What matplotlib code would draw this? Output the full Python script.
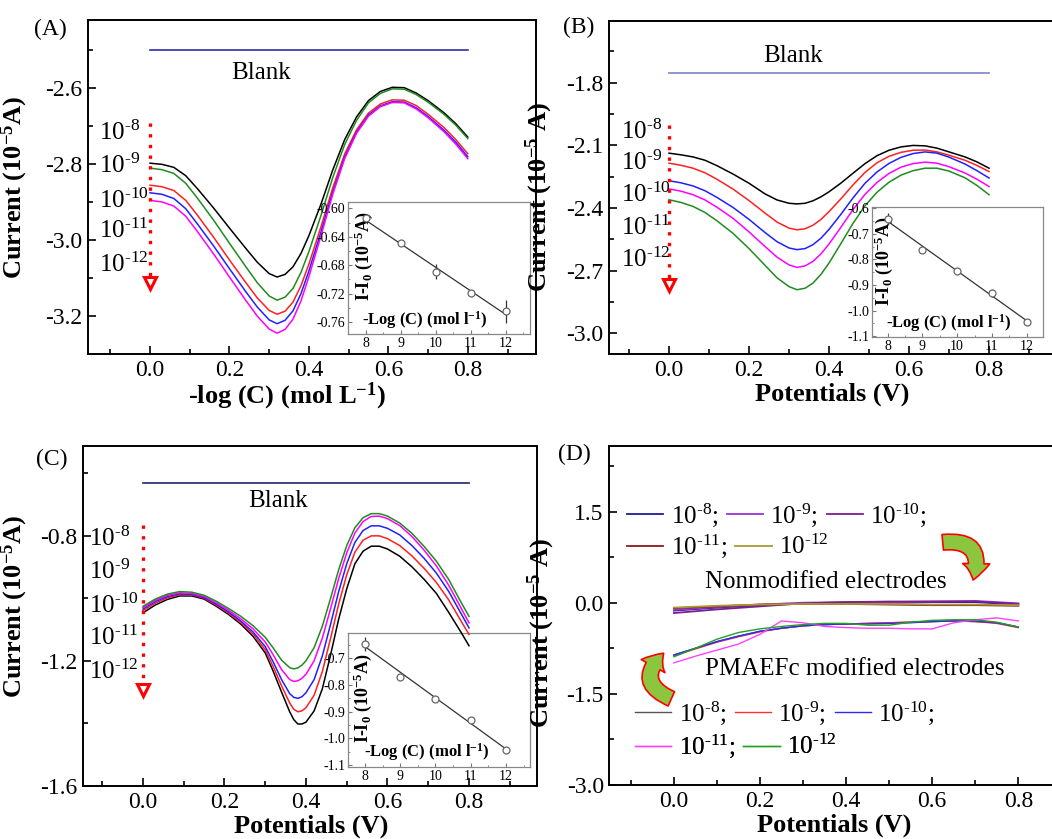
import numpy as np
import matplotlib
matplotlib.use("Agg")
import matplotlib.pyplot as plt
from matplotlib.ticker import MultipleLocator, FormatStrFormatter
from matplotlib.patches import FancyArrowPatch

plt.rcParams['font.family'] = ['Liberation Serif', 'DejaVu Serif']
plt.rcParams['mathtext.fontset'] = 'custom'
plt.rcParams['mathtext.rm'] = 'Liberation Serif'
plt.rcParams['mathtext.it'] = 'Liberation Serif:italic'
plt.rcParams['mathtext.bf'] = 'Liberation Serif:bold'
plt.rcParams['mathtext.default'] = 'regular'
plt.rcParams['axes.unicode_minus'] = False

# -------------------------------
# Data
# -------------------------------
conc_labels = [r'10$^{\text{-8}}$', r'10$^{\text{-9}}$', r'10$^{\text{-10}}$',
               r'10$^{\text{-11}}$', r'10$^{\text{-12}}$']
log_conc = [8, 9, 10, 11, 12]

# Panel A (shared potential grid for A and B)
potential_ab = [0, 0.03, 0.06, 0.09, 0.12, 0.16, 0.2, 0.24, 0.27, 0.3, 0.32, 0.34, 0.36, 0.38,
                0.4, 0.43, 0.46, 0.49, 0.52, 0.55, 0.58, 0.61, 0.64, 0.67, 0.7, 0.74, 0.77, 0.8]
a_black = [-2.797, -2.800, -2.808, -2.830, -2.865, -2.915, -2.968, -3.020, -3.058, -3.088, -3.097,
           -3.090, -3.070, -3.035, -2.988, -2.906, -2.815, -2.735, -2.675, -2.632, -2.608, -2.597,
           -2.598, -2.612, -2.632, -2.664, -2.693, -2.728]
a_green = [-2.810, -2.814, -2.824, -2.850, -2.890, -2.947, -3.008, -3.068, -3.112, -3.147, -3.158,
           -3.150, -3.127, -3.085, -3.030, -2.936, -2.835, -2.748, -2.684, -2.638, -2.613, -2.601,
           -2.602, -2.616, -2.636, -2.668, -2.697, -2.732]
a_red = [-2.855, -2.859, -2.869, -2.895, -2.935, -2.992, -3.052, -3.110, -3.152, -3.185, -3.195,
         -3.187, -3.163, -3.120, -3.063, -2.966, -2.862, -2.773, -2.709, -2.665, -2.641, -2.630,
         -2.631, -2.645, -2.668, -2.703, -2.735, -2.772]
a_blue = [-2.875, -2.879, -2.890, -2.917, -2.958, -3.015, -3.075, -3.134, -3.176, -3.210, -3.220,
          -3.211, -3.186, -3.141, -3.081, -2.980, -2.873, -2.781, -2.715, -2.670, -2.646, -2.635,
          -2.636, -2.651, -2.674, -2.710, -2.742, -2.780]
a_magenta = [-2.895, -2.899, -2.910, -2.937, -2.978, -3.036, -3.097, -3.157, -3.200, -3.234, -3.245,
             -3.235, -3.208, -3.160, -3.096, -2.990, -2.879, -2.785, -2.718, -2.673, -2.648, -2.637,
             -2.638, -2.654, -2.677, -2.714, -2.747, -2.785]
a_blank = -2.5
a_inset = [-0.614, -0.649, -0.689, -0.719, -0.745]
a_inset_err = [0.003, 0.004, 0.010, 0.003, 0.016]

# Panel B
b_black = [-2.138, -2.146, -2.156, -2.172, -2.198, -2.238, -2.282, -2.333, -2.362, -2.378, -2.381,
           -2.378, -2.366, -2.347, -2.323, -2.281, -2.234, -2.188, -2.150, -2.124, -2.108, -2.101,
           -2.103, -2.114, -2.132, -2.156, -2.180, -2.210]
b_red = [-2.186, -2.196, -2.210, -2.232, -2.263, -2.310, -2.365, -2.425, -2.468, -2.497, -2.505,
         -2.500, -2.483, -2.455, -2.418, -2.356, -2.290, -2.230, -2.184, -2.153, -2.134, -2.124,
         -2.123, -2.132, -2.148, -2.172, -2.197, -2.226]
b_blue = [-2.270, -2.280, -2.295, -2.318, -2.350, -2.398, -2.455, -2.518, -2.562, -2.592, -2.600,
          -2.595, -2.576, -2.545, -2.503, -2.430, -2.352, -2.282, -2.228, -2.187, -2.158, -2.140,
          -2.132, -2.138, -2.157, -2.190, -2.222, -2.257]
b_magenta = [-2.309, -2.320, -2.337, -2.362, -2.397, -2.450, -2.515, -2.585, -2.636, -2.673, -2.685,
             -2.678, -2.656, -2.620, -2.573, -2.492, -2.408, -2.335, -2.278, -2.235, -2.205, -2.188,
             -2.181, -2.186, -2.203, -2.233, -2.263, -2.298]
b_green = [-2.361, -2.374, -2.393, -2.422, -2.462, -2.522, -2.595, -2.675, -2.735, -2.777, -2.792,
           -2.785, -2.760, -2.718, -2.664, -2.570, -2.474, -2.390, -2.325, -2.277, -2.243, -2.222,
           -2.210, -2.210, -2.224, -2.256, -2.293, -2.337]
b_blank = -1.752
b_inset = [-0.642, -0.763, -0.845, -0.930, -1.044]
b_inset_err = [0.022, 0.008, 0.005, 0.015, 0.008]

# Panel C
potential_c = [0, 0.03, 0.06, 0.09, 0.12, 0.15, 0.18, 0.21, 0.24, 0.27, 0.3, 0.32, 0.34, 0.36,
               0.37, 0.38, 0.39, 0.4, 0.42, 0.44, 0.46, 0.48, 0.5, 0.52, 0.54, 0.56, 0.58, 0.6,
               0.63, 0.66, 0.69, 0.72, 0.75, 0.78, 0.8]
c_black = [-1.047, -1.022, -1.004, -0.993, -0.993, -1.003, -1.026, -1.052, -1.083, -1.122, -1.175,
           -1.235, -1.300, -1.363, -1.388, -1.402, -1.402, -1.396, -1.360, -1.290, -1.183, -1.068,
           -0.970, -0.890, -0.850, -0.834, -0.834, -0.843, -0.866, -0.900, -0.940, -0.985, -1.045,
           -1.108, -1.152]
c_red = [-1.040, -1.016, -0.999, -0.989, -0.990, -1.000, -1.022, -1.048, -1.078, -1.115, -1.165,
         -1.220, -1.280, -1.335, -1.355, -1.363, -1.360, -1.350, -1.310, -1.235, -1.130, -1.020,
         -0.925, -0.853, -0.815, -0.801, -0.801, -0.810, -0.832, -0.865, -0.905, -0.950, -1.005,
         -1.072, -1.116]
c_blue = [-1.035, -1.011, -0.995, -0.986, -0.988, -0.998, -1.019, -1.044, -1.073, -1.108, -1.155,
          -1.205, -1.260, -1.305, -1.317, -1.320, -1.315, -1.302, -1.260, -1.185, -1.085, -0.980,
          -0.890, -0.822, -0.784, -0.769, -0.769, -0.777, -0.798, -0.832, -0.873, -0.920, -0.978,
          -1.048, -1.095]
c_magenta = [-1.030, -1.007, -0.991, -0.983, -0.985, -0.995, -1.015, -1.039, -1.066, -1.098, -1.140,
             -1.182, -1.228, -1.260, -1.266, -1.264, -1.256, -1.243, -1.200, -1.128, -1.035, -0.938,
             -0.855, -0.792, -0.755, -0.739, -0.738, -0.746, -0.768, -0.803, -0.847, -0.897, -0.958,
             -1.030, -1.079]
c_green = [-1.026, -1.003, -0.987, -0.979, -0.981, -0.991, -1.010, -1.033, -1.058, -1.088, -1.125,
           -1.160, -1.198, -1.222, -1.226, -1.223, -1.214, -1.200, -1.158, -1.090, -1.002, -0.910,
           -0.832, -0.775, -0.743, -0.730, -0.730, -0.738, -0.760, -0.793, -0.835, -0.882, -0.940,
           -1.012, -1.058]
c_blank = -0.631
c_inset = [-0.646, -0.769, -0.851, -0.931, -1.044]
c_inset_err = [0.026, 0.010, 0.006, 0.010, 0.006]

# Panel D
potential_d_bare = [0, 0.1, 0.2, 0.3, 0.4, 0.5, 0.6, 0.7, 0.8]
d_bare = [
    [-0.13, -0.08, -0.04, -0.01, 0.00, 0.00, 0.01, 0.01, -0.03],
    [-0.12, -0.07, -0.03, 0.00, 0.01, 0.01, 0.02, 0.03, -0.01],
    [-0.17, -0.11, -0.06, -0.01, 0.01, 0.02, 0.02, 0.02, -0.02],
    [-0.09, -0.06, -0.03, -0.02, -0.02, -0.03, -0.04, -0.04, -0.05],
    [-0.08, -0.05, -0.03, -0.02, -0.02, -0.02, -0.03, -0.03, -0.04],
]
potential_d_mod = [0, 0.05, 0.1, 0.15, 0.2, 0.25, 0.3, 0.35, 0.4,
                   0.45, 0.5, 0.55, 0.6, 0.65, 0.7, 0.75, 0.8]
d_mod = [
    [-0.86, -0.75, -0.64, -0.55, -0.47, -0.42, -0.38, -0.36, -0.35, -0.34, -0.33, -0.32, -0.31, -0.30, -0.31, -0.33, -0.40],
    [-0.87, -0.76, -0.65, -0.56, -0.48, -0.42, -0.38, -0.36, -0.35, -0.34, -0.33, -0.32, -0.31, -0.30, -0.31, -0.34, -0.41],
    [-0.86, -0.75, -0.64, -0.55, -0.47, -0.42, -0.38, -0.36, -0.35, -0.35, -0.34, -0.33, -0.31, -0.30, -0.30, -0.33, -0.40],
    [-0.99, -0.88, -0.78, -0.68, -0.52, -0.30, -0.33, -0.39, -0.41, -0.42, -0.42, -0.43, -0.43, -0.33, -0.28, -0.25, -0.30],
    [-0.89, -0.75, -0.60, -0.49, -0.43, -0.39, -0.36, -0.34, -0.34, -0.37, -0.37, -0.32, -0.29, -0.28, -0.28, -0.32, -0.40],
]

BLACK, GREEN, RED, BLUE, MAGENTA = 'black', '#1e8c1e', '#ff2020', '#2020ff', '#ff00ff'
bare_colors = ['#1c1c9c', '#9933dd', '#7a1f8f', '#8b1a1a', '#a89a30']
mod_colors = ['#555555', '#ff3030', '#2a2aff', '#ff40ff', '#22a022']


# -------------------------------
# Helpers
# -------------------------------
def style_main(ax, xlim, ylim, ystep, yfmt):
    ax.set_xlim(xlim)
    ax.set_ylim(ylim)
    ax.xaxis.set_major_locator(MultipleLocator(0.2))
    ax.xaxis.set_minor_locator(MultipleLocator(0.1))
    ax.yaxis.set_major_locator(MultipleLocator(ystep))
    ax.yaxis.set_minor_locator(MultipleLocator(ystep / 2))
    ax.xaxis.set_major_formatter(FormatStrFormatter('%.1f'))
    ax.yaxis.set_major_formatter(FormatStrFormatter(yfmt))
    ax.tick_params(which='both', direction='in', top=False, right=False,
                   labelsize=17, width=1.2, pad=4)
    ax.tick_params(which='major', length=6)
    ax.tick_params(which='minor', length=3.5)
    for sp in ax.spines.values():
        sp.set_linewidth(1.4)


def add_inset(fig, rect, xlim, ylim, ystep, yfmt, yvals, yerr, lab_pos):
    ins = fig.add_axes(rect)
    ins.errorbar(log_conc, yvals, yerr=yerr, fmt='o', ms=5, mfc='white', mec='#666666',
                 mew=0.9, ecolor='#333333', elinewidth=0.9, capsize=0, zorder=3)
    coef = np.polyfit(log_conc, yvals, 1)
    xs = np.array([log_conc[0], log_conc[-1]])
    ins.plot(xs, np.polyval(coef, xs), color='#333333', lw=0.9)
    ins.set_xlim(xlim)
    ins.set_ylim(ylim)
    ins.xaxis.set_major_locator(MultipleLocator(1))
    ins.xaxis.set_minor_locator(MultipleLocator(0.5))
    ins.yaxis.set_major_locator(MultipleLocator(ystep))
    ins.yaxis.set_minor_locator(MultipleLocator(ystep / 2))
    ins.yaxis.set_major_formatter(FormatStrFormatter(yfmt))
    ins.tick_params(which='both', direction='in', labelsize=10, color='#777777', pad=2)
    ins.tick_params(which='major', length=3)
    ins.tick_params(which='minor', length=1.5)
    for sp in ins.spines.values():
        sp.set_color('#888888')
        sp.set_linewidth(0.9)
    ins.text(lab_pos[0], lab_pos[1], r'I-I$_\mathbf{0}$ (10$^\mathbf{-5}$A)', transform=ins.transAxes,
             rotation=90, ha='center', va='center', fontsize=13, fontweight='bold')
    ins.text(lab_pos[2], lab_pos[3], r'-Log (C) (mol l$^\mathbf{-1}$)', transform=ins.transAxes,
             ha='center', va='center', fontsize=12, fontweight='bold')
    return ins


def add_conc_marks(ax, xlab, ylabs, ytop, ybot, blank_y, blank_color, blank_txt):
    for lab, y in zip(conc_labels, ylabs):
        ax.text(xlab, y, lab, fontsize=18, ha='left', va='center')
    ax.plot([0, 0], [ytop, ybot], linestyle=(0, (1, 2.2)), color='red', lw=2.4)
    ax.plot([0], [ybot], marker='v', ms=8, color='red', mfc='white', mew=2.2)
    ax.plot([0, 0.8], [blank_y, blank_y], color=blank_color, lw=1.2)
    ax.text(blank_txt[0], blank_txt[1], 'Blank', fontsize=18, ha='center', va='center')


# -------------------------------
# Figure
# -------------------------------
fig = plt.figure(figsize=(10.52, 8.39), dpi=100)

# Panel A
axA = fig.add_axes([0.0837, 0.578, 0.4259, 0.398])
for y, c in zip([a_black, a_green, a_red, a_blue, a_magenta], [BLACK, GREEN, RED, BLUE, MAGENTA]):
    axA.plot(potential_ab, y, color=c, lw=1.1)
add_conc_marks(axA, -0.128, [-2.718, -2.803, -2.895, -2.974, -3.066], -2.692, -3.113,
               a_blank, '#2d2daa', (0.28, -2.558))
style_main(axA, (-0.156, 0.972), (-3.3, -2.42), 0.2, '%.1f')
axA.set_xlabel(r'-log (C) (mol L$^\mathbf{-1}$)', fontsize=19, fontweight='bold')
axA.xaxis.set_label_coords(0.445, -0.128)
axA.xaxis.label.set_va('center')
axA.set_ylabel(r'Current (10$^\mathbf{-5}$A)', fontsize=19, fontweight='bold')
axA.yaxis.set_label_coords(-0.13, 0.5)
add_inset(fig, [0.3308, 0.6019, 0.173, 0.1573], (7.49, 12.69), (-0.777, -0.591), 0.04, '%.2f',
          a_inset, a_inset_err, (0.085, 0.59, 0.42, 0.106))

# Panel B
axB = fig.add_axes([0.5789, 0.578, 0.4259, 0.397])
for y, c in zip([b_black, b_red, b_blue, b_magenta, b_green], [BLACK, RED, BLUE, MAGENTA, GREEN]):
    axB.plot(potential_ab, y, color=c, lw=1.1)
add_conc_marks(axB, -0.12, [-2.036, -2.185, -2.338, -2.496, -2.648], -2.003, -2.768,
               b_blank, '#8080cc', (0.31, -1.672))
style_main(axB, (-0.15, 0.97), (-3.1, -1.505), 0.3, '%.1f')
axB.set_xlabel('Potentials (V)', fontsize=19, fontweight='bold')
axB.xaxis.set_label_coords(0.498, -0.12)
axB.xaxis.label.set_va('center')
axB.set_ylabel(r'Current (10$^\mathbf{-5}$ A)', fontsize=19, fontweight='bold')
axB.yaxis.set_label_coords(-0.12, 0.47)
add_inset(fig, [0.8289, 0.5983, 0.1625, 0.155], (7.55, 12.47), (-1.103, -0.595), 0.1, '%.1f',
          b_inset, b_inset_err, (0.07, 0.58, 0.45, 0.108))

# Panel C
axC = fig.add_axes([0.0786, 0.0632, 0.4319, 0.4052])
for y, c in zip([c_black, c_red, c_blue, c_magenta, c_green], [BLACK, RED, BLUE, MAGENTA, GREEN]):
    axC.plot(potential_c, y, color=c, lw=1.1)
add_conc_marks(axC, -0.133, [-0.81, -0.916, -1.026, -1.126, -1.237], -0.766, -1.295,
               c_blank, '#24246e', (0.331, -0.69))
style_main(axC, (-0.148, 0.967), (-1.6, -0.514), 0.4, '%.1f')
axC.set_xlabel('Potentials (V)', fontsize=19, fontweight='bold')
axC.xaxis.set_label_coords(0.502, -0.118)
axC.xaxis.label.set_va('center')
axC.set_ylabel(r'Current (10$^\mathbf{-5}$A)', fontsize=19, fontweight='bold')
axC.yaxis.set_label_coords(-0.117, 0.527)
insC = add_inset(fig, [0.3308, 0.0858, 0.173, 0.1597], (7.52, 12.68), (-1.107, -0.606), 0.1, '%.1f',
                 c_inset, c_inset_err, (0.08, 0.515, 0.434, 0.114))
# curves of panel C run over the inset frame
insC.set_zorder(0)
axC.set_zorder(1)
axC.patch.set_visible(False)

# Panel D
axD = fig.add_axes([0.5792, 0.0644, 0.4256, 0.404])
bare_lines = [axD.plot(potential_d_bare, y, color=c, lw=1.3)[0] for y, c in zip(d_bare, bare_colors)]
mod_lines = [axD.plot(potential_d_mod, y, color=c, lw=1.0)[0] for y, c in zip(d_mod, mod_colors)]
style_main(axD, (-0.15, 0.89), (-3.0, 2.58), 1.5, '%.1f')
axD.set_xlabel('Potentials (V)', fontsize=19, fontweight='bold')
axD.xaxis.set_label_coords(0.502, -0.12)
axD.xaxis.label.set_va('center')
axD.set_ylabel(r'Current (10$^\mathbf{-5}$ A)', fontsize=19, fontweight='bold')
axD.yaxis.set_label_coords(-0.117, 0.448)

leg_labels = [l + ';' for l in conc_labels[:4]] + [conc_labels[4]]
leg_kw = dict(frameon=False, fontsize=18, handlelength=1.45, handletextpad=0.3,
              columnspacing=0.35, borderpad=0, borderaxespad=0, loc='center left')
rows = [(bare_lines, 0.039, 0.796, 0.703), (mod_lines, 0.057, 0.2115, 0.113)]
for lines, x0, y1, y2 in rows:
    l1 = axD.legend(lines[:3], leg_labels[:3], ncol=3, bbox_to_anchor=(x0, y1), **leg_kw)
    axD.add_artist(l1)
    l2 = axD.legend(lines[3:], leg_labels[3:], ncol=2, bbox_to_anchor=(x0, y2), **leg_kw)
    axD.add_artist(l2)

axD.text(0.354, 0.347, 'Nonmodified electrodes', fontsize=18, ha='center', va='center')
axD.text(0.419, -1.088, 'PMAEFc modified electrodes', fontsize=18, ha='center', va='center')

for tail, head in [((0.618, 0.99), (0.693, 0.33)), ((0.0, -1.60), (-0.019, -0.80))]:
    arr = FancyArrowPatch(tail, head, connectionstyle='arc3,rad=-0.8',
                          arrowstyle='simple,head_width=1.3,head_length=0.8,tail_width=0.75',
                          mutation_scale=15, facecolor='#8cc63f', edgecolor='red', lw=1.2,
                          transform=axD.transData)
    axD.add_patch(arr)

# Panel letters
for txt, x, y in [('(A)', 50, 29), ('(B)', 579, 27), ('(C)', 52, 459), ('(D)', 574, 454)]:
    fig.text(x / 1052, 1 - y / 839, txt, fontsize=17, ha='center', va='center')

fig.savefig('out.png', dpi=100)
